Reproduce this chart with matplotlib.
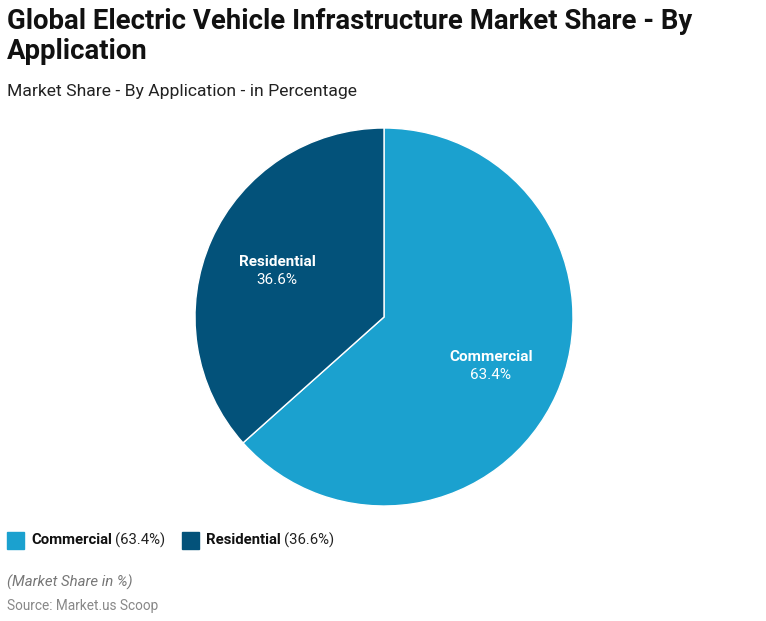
import numpy as np
import matplotlib.pyplot as plt
from matplotlib.patches import Rectangle

plt.rcParams['font.family'] = ['Roboto', 'DejaVu Sans']

categories = ['Commercial', 'Residential']
shares = [63.4, 36.6]
colors = ['#1ba1cf', '#03527a']

W, H = 766, 621
fig = plt.figure(figsize=(W / 100, H / 100), dpi=100)

# pie placed in pixel coords: centre (384, 317), radius 189
cx, cy, r = 384, 317, 189
ax = fig.add_axes([(cx - r) / W, (H - cy - r) / H, 2 * r / W, 2 * r / H])
wedges, _ = ax.pie(shares, colors=colors, startangle=90, counterclock=False,
                   wedgeprops=dict(edgecolor='white', linewidth=1))
ax.set_xlim(-1, 1)
ax.set_ylim(-1, 1)
ax.set_aspect('equal')

for w, name, val in zip(wedges, categories, shares):
    ang = np.deg2rad((w.theta1 + w.theta2) / 2)
    x, y = 0.62 * np.cos(ang), 0.62 * np.sin(ang)
    ax.text(x, y + 0.04, name, ha='center', va='center', color='white',
            fontsize=11, fontweight='bold')
    ax.text(x, y - 0.056, f'{val}%', ha='center', va='center', color='white',
            fontsize=11)

# titles
fig.text(7 / W, 1 - 8 / H, 'Global Electric Vehicle Infrastructure Market Share - By\nApplication',
         ha='left', va='top', fontsize=19.8, fontweight='bold', color='#111111',
         linespacing=1.13)
fig.text(7 / W, 1 - 84 / H, 'Market Share - By Application - in Percentage',
         ha='left', va='top', fontsize=12.6, color='#222222')

# legend
lx = [7, 182]
for x0, name, val, c in zip(lx, categories, shares, colors):
    fig.patches.append(Rectangle((x0 / W, 1 - 549 / H), 17 / W, 17 / H,
                                 transform=fig.transFigure, color=c))
    t = fig.text((x0 + 24) / W, 1 - 540.5 / H, name, ha='left', va='center',
                 fontsize=10.7, fontweight='bold', color='#111111')
    fig.canvas.draw()
    bb = t.get_window_extent()
    fig.text(bb.x1 / W + 3 / W, 1 - 540.5 / H, f'({val}%)', ha='left', va='center',
             fontsize=10.7, color='#222222')

fig.text(7 / W, 1 - 582 / H, '(Market Share in %)', ha='left', va='center',
         fontsize=10.8, style='italic', color='#777777')
fig.text(7 / W, 1 - 606 / H, 'Source: Market.us Scoop', ha='left', va='center',
         fontsize=9.8, color='#888888')

fig.savefig('out.png', dpi=100)
